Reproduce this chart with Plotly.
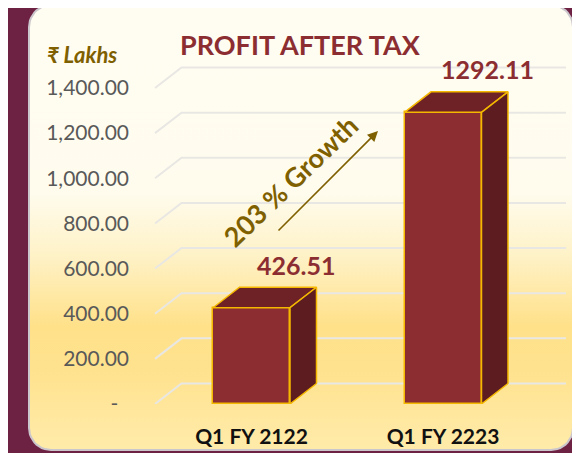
import numpy as np
import plotly.graph_objects as go

# ---------------- data ----------------
categories = ["Q1 FY 2122", "Q1 FY 2223"]
profit_values = [426.51, 1292.11]
value_labels = ["426.51", "1292.11"]
y_tick_values = [0, 200, 400, 600, 800, 1000, 1200, 1400]
y_tick_labels = ["-\u00a0\u00a0", "200.00", "400.00", "600.00", "800.00",
                 "1,000.00", "1,200.00", "1,400.00"]
title_text = "PROFIT AFTER TAX"
unit_text = "₹ Lakhs"
growth_text = "203 % Growth"

# ---------------- layout constants (pixels) ----------------
W, H = 580, 453
OFF = 8          # page body margin shifts the figure by this much; compensate
FONT = "Lato"
MAROON_BG = "#6D2244"
BAR_FRONT = "#8B2D31"
BAR_TOP = "#6F2226"
BAR_SIDE = "#5D1C20"
GOLD = "#F5B800"
OLIVE = "#7F6000"
TXT_RED = "#8B2D31"


def fx(p):  # target screen x pixel -> figure x pixel
    return p - OFF


def fy(p):  # target screen y pixel -> figure y pixel
    return p - OFF


def paper_x(p):
    return fx(p) / W


def paper_y(p):
    return 1 - fy(p) / H


PL, PR, PT, PB = fx(136), fx(570), fy(30), fy(404)
X0_PX, X_UNIT_PX = fx(251.5), 191.5
K = 316.0 / 1400.0
xr = [(PL - X0_PX) / X_UNIT_PX, (PR - X0_PX) / X_UNIT_PX]
yr = [0, (PB - PT) / K]
DX = 26.5 / X_UNIT_PX
DY = 20.5 / K
BW = 77.0 / X_UNIT_PX
GX0 = (fx(155) - X0_PX) / X_UNIT_PX
GX1 = (fx(566) - X0_PX) / X_UNIT_PX

fig = go.Figure()


def rounded_rect(x0, y0, x1, y1, r, n=12):
    xs, ys = [], []
    corners = [(x1 - r, y0 + r, -90, 0), (x1 - r, y1 - r, 0, 90),
               (x0 + r, y1 - r, 90, 180), (x0 + r, y0 + r, 180, 270)]
    for cx, cy, a0, a1 in corners:
        for a in np.linspace(np.radians(a0), np.radians(a1), n):
            xs.append(cx + r * np.cos(a))
            ys.append(cy + r * np.sin(a))
    xs.append(xs[0]); ys.append(ys[0])
    return xs, ys


top_y, bot_y = fy(5), fy(450)
px, py = rounded_rect(fx(29), top_y, fx(573), bot_y, 22)
fig.add_trace(go.Scatter(
    x=px, y=py, mode="lines", fill="toself",
    line=dict(color="#CBC6CC", width=2),
    fillgradient=dict(type="vertical", start=top_y, stop=bot_y,
                      colorscale=[[0, "#FFFDF2"], [0.42, "#FFFCEE"],
                                  [0.56, "#FEF2C8"], [0.72, "#FFE18A"],
                                  [0.82, "#FFE28E"], [1, "#FFEBAA"]]),
    hoverinfo="skip", showlegend=False, xaxis="x", yaxis="y"))

# perspective gridlines (shapes below the bar traces)
shapes = []
for v in y_tick_values:
    shapes.append(dict(type="path", xref="x2", yref="y2", layer="below",
                       path=f"M{GX0},{v} L{GX0 + DX},{v + DY} L{GX1},{v + DY}",
                       line=dict(color="#E9E7E3", width=2)))

xpos = list(range(len(categories)))
fig.add_trace(go.Bar(x=xpos, y=profit_values, width=BW,
                     marker=dict(color=BAR_FRONT, line=dict(color=GOLD, width=1.5)),
                     hoverinfo="skip", showlegend=False, xaxis="x2", yaxis="y2"))
for i, v in zip(xpos, profit_values):
    l, r = i - BW / 2, i + BW / 2
    fig.add_trace(go.Scatter(
        x=[l, l + DX, r + DX, r, l], y=[v, v + DY, v + DY, v, v],
        mode="lines", fill="toself", fillcolor=BAR_TOP,
        line=dict(color=GOLD, width=1.5), hoverinfo="skip", showlegend=False,
        xaxis="x2", yaxis="y2"))
    fig.add_trace(go.Scatter(
        x=[r, r, r + DX, r + DX, r], y=[0, v, v + DY, DY, 0],
        mode="lines", fill="toself", fillcolor=BAR_SIDE,
        line=dict(color=GOLD, width=1.5), hoverinfo="skip", showlegend=False,
        xaxis="x2", yaxis="y2"))

ann = []
for i, v, t in zip(xpos, profit_values, value_labels):
    ann.append(dict(x=i + 0.232, y=v, xref="x2", yref="y2", text=f"<b>{t}</b>",
                    showarrow=False, yshift=43, yanchor="middle", xanchor="center",
                    font=dict(family=FONT, size=25, color=TXT_RED)))
ann.append(dict(x=paper_x(300), y=paper_y(45), xref="paper", yref="paper",
                text=f"<b>{title_text}</b>", showarrow=False,
                xanchor="center", yanchor="middle",
                font=dict(family=FONT, size=27, color=TXT_RED)))
ann.append(dict(x=paper_x(45), y=paper_y(55), xref="paper", yref="paper",
                xanchor="left", yanchor="middle",
                text=f"<b><i>{unit_text}</i></b>", showarrow=False,
                font=dict(family=FONT, size=22, color=OLIVE)))
ann.append(dict(x=paper_x(378), y=paper_y(131), xref="paper", yref="paper", text="",
                showarrow=True, ax=-101, ay=101, arrowhead=2, arrowsize=1.3,
                arrowwidth=1.6, arrowcolor=OLIVE))
ann.append(dict(x=paper_x(291), y=paper_y(181), xref="paper", yref="paper",
                xanchor="center", yanchor="middle",
                text=f"<b>{growth_text}</b>", showarrow=False, textangle=-44,
                font=dict(family=FONT, size=27, color=OLIVE)))

fig.update_layout(
    width=W, height=H, margin=dict(l=0, r=0, t=0, b=0, autoexpand=False),
    paper_bgcolor=MAROON_BG, plot_bgcolor="rgba(0,0,0,0)",
    showlegend=False, bargap=0, shapes=shapes,
    xaxis=dict(domain=[0, 1], range=[0, W], visible=False, fixedrange=True),
    yaxis=dict(domain=[0, 1], range=[H, 0], visible=False, fixedrange=True),
    xaxis2=dict(domain=[PL / W, PR / W], range=xr, anchor="y2",
                tickvals=xpos, ticktext=[f"<b>{c}</b>" for c in categories],
                showgrid=False, zeroline=False, showline=False, ticks="",
                ticklabelstandoff=18, automargin=False,
                tickfont=dict(family=FONT, size=21, color="#111111")),
    yaxis2=dict(domain=[1 - PB / H, 1 - PT / H], range=yr, anchor="x2",
                tickvals=y_tick_values, ticktext=y_tick_labels,
                showgrid=False, zeroline=False, showline=False, ticks="",
                ticklabelstandoff=6, automargin=False,
                tickfont=dict(family=FONT, size=21, color="#595959")),
    annotations=ann,
)

fig.write_html("out.html")
